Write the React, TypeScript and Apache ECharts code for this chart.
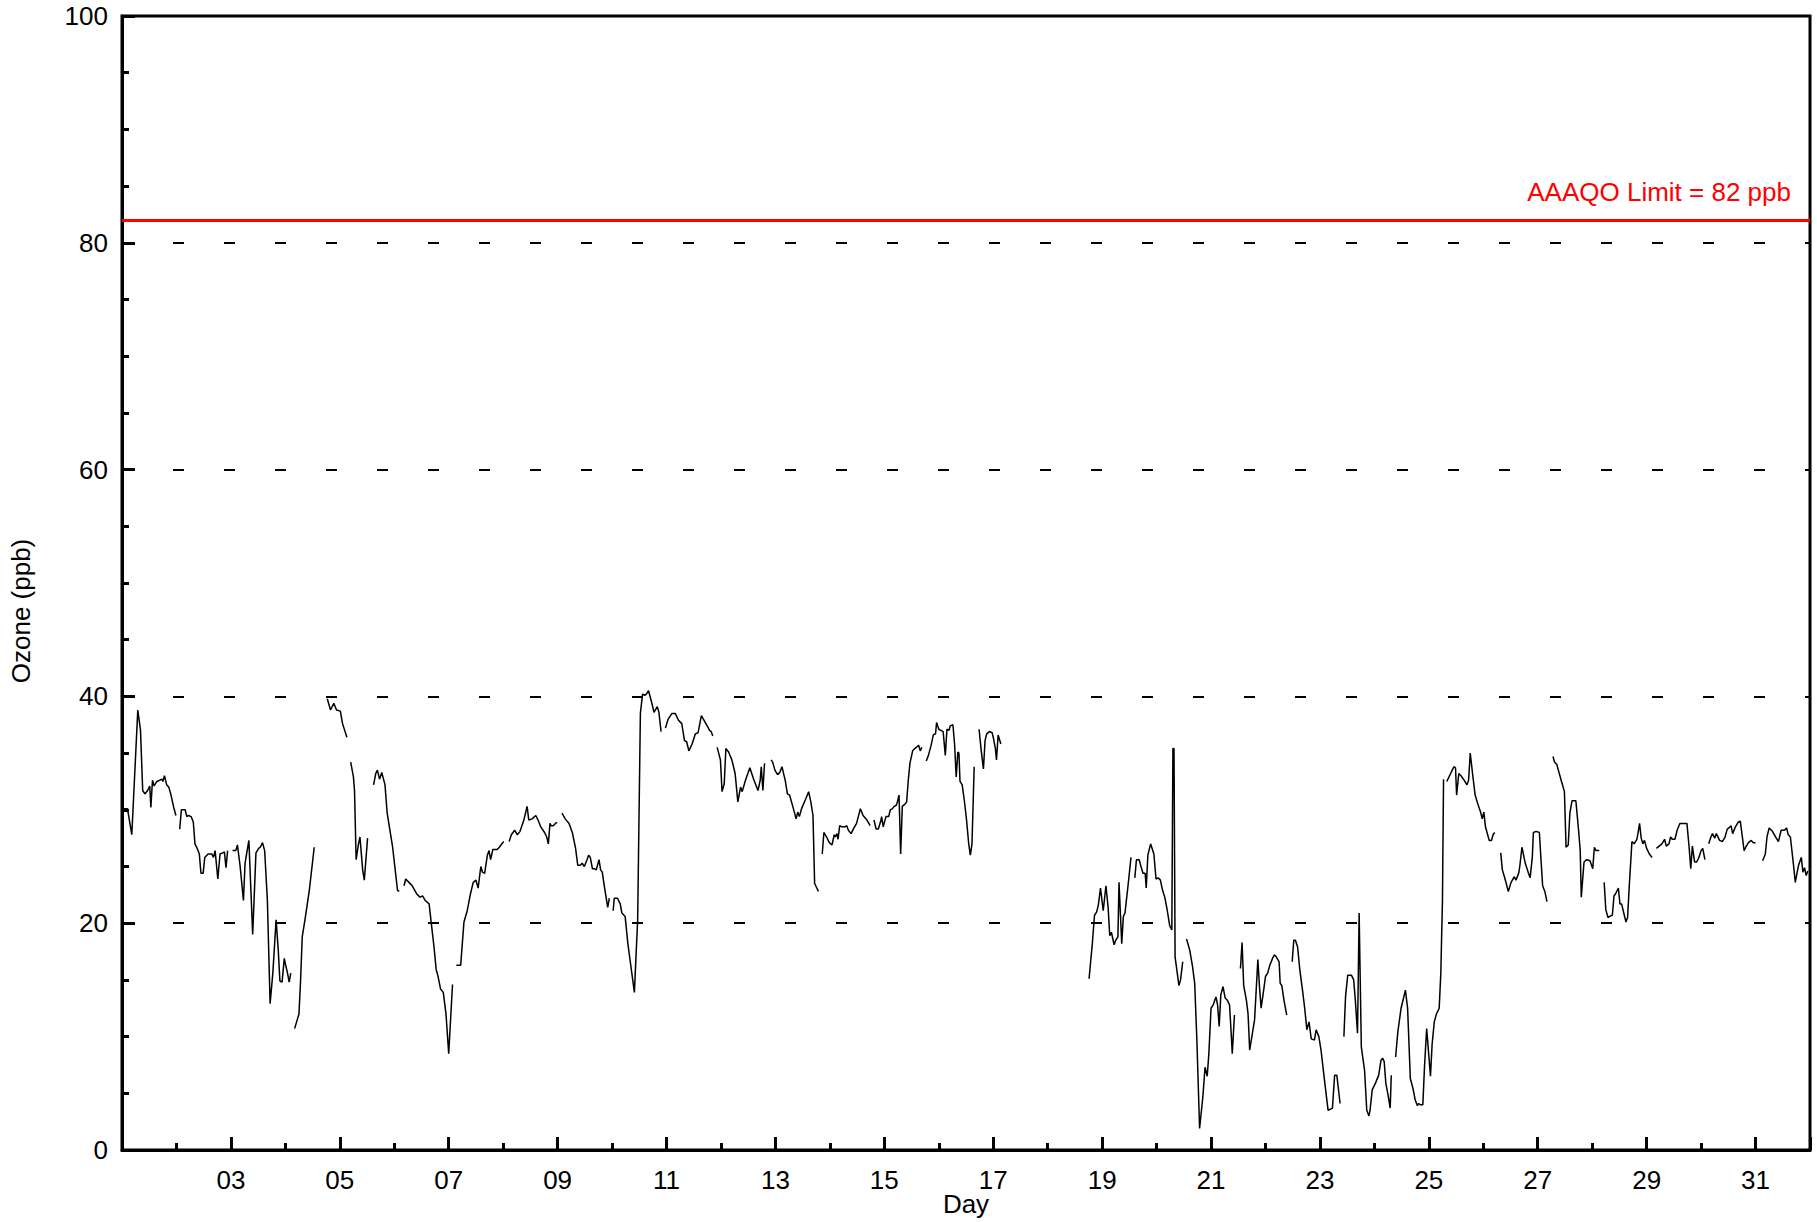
import React, { useEffect, useRef } from "react";
import * as echarts from "echarts";

const ozoneSegments: [number, number][][] = [
  [[1.03,30.1],[1.10,30.1],[1.18,27.8],[1.29,38.8],[1.34,37.0],[1.38,31.7],[1.42,31.4],[1.47,31.7],[1.51,32.1],[1.53,30.2],[1.56,32.6],[1.59,32.1],[1.64,32.5],[1.69,32.6],[1.73,32.7],[1.75,32.5],[1.78,33.0],[1.82,32.2],[1.86,32.0],[1.90,31.3],[1.95,30.2],[1.99,29.5]],
  [[2.06,28.3],[2.09,30.0],[2.16,30.0],[2.19,29.4],[2.22,29.5],[2.27,29.4],[2.31,28.9],[2.34,27.0],[2.38,26.6],[2.42,26.1],[2.45,24.4],[2.49,24.4],[2.52,25.8],[2.58,26.1],[2.65,26.1],[2.68,25.8],[2.71,26.4],[2.76,23.9],[2.80,26.1],[2.85,26.2],[2.88,26.3],[2.91,24.9],[2.94,26.4]],
  [[3.03,26.4],[3.09,26.4],[3.12,26.9],[3.17,25.0],[3.23,22.0],[3.26,25.3],[3.33,27.3],[3.40,19.0],[3.46,26.2],[3.51,26.6],[3.54,26.7],[3.58,27.1],[3.62,26.4],[3.67,22.0],[3.72,12.9],[3.77,15.6],[3.83,20.3],[3.87,17.6],[3.90,14.9],[3.94,14.8],[3.98,16.9],[4.01,16.2],[4.04,15.6],[4.07,14.8],[4.10,15.6]],
  [[4.17,10.7],[4.25,12.0],[4.28,15.0],[4.31,18.8],[4.36,20.3],[4.44,22.9],[4.53,26.7]],
  [[4.77,39.8],[4.83,38.8],[4.89,39.4],[4.94,38.8],[5.01,38.7],[5.05,37.6],[5.13,36.4]],
  [[5.20,34.2],[5.25,32.9],[5.27,31.7],[5.30,25.6],[5.34,26.9],[5.37,27.6],[5.42,24.7],[5.45,23.8],[5.51,27.5]],
  [[5.62,32.2],[5.66,33.2],[5.69,33.5],[5.73,32.7],[5.77,33.3],[5.83,32.2],[5.87,29.7],[5.97,26.7],[6.06,22.9],[6.09,22.8]],
  [[6.18,23.3],[6.21,23.9],[6.27,23.6],[6.33,23.3],[6.41,22.6],[6.47,22.3],[6.52,22.4],[6.57,22.0],[6.64,21.7],[6.68,20.0],[6.73,17.9],[6.77,15.9],[6.80,15.4],[6.85,14.2],[6.90,13.9],[6.95,12.0],[7.00,8.5],[7.07,14.6]],
  [[7.14,16.3],[7.22,16.3],[7.28,20.1],[7.34,21.1],[7.40,22.6],[7.45,23.6],[7.50,23.8],[7.54,23.1],[7.59,25.0],[7.62,24.5],[7.66,24.4],[7.71,26.0],[7.74,26.4],[7.77,25.6],[7.81,26.5],[7.89,26.5],[7.93,26.7],[7.96,26.9],[8.01,27.2]],
  [[8.11,27.2],[8.15,27.8],[8.21,28.2],[8.26,27.8],[8.31,28.1],[8.38,29.1],[8.44,30.3],[8.47,29.1],[8.53,29.2],[8.60,29.5],[8.64,29.1],[8.69,28.5],[8.76,28.0],[8.80,27.6],[8.83,27.0],[8.86,28.8],[8.88,28.6],[8.92,28.6],[8.96,28.8],[8.99,28.9]],
  [[9.08,29.7],[9.14,29.2],[9.21,28.8],[9.27,28.0],[9.33,26.6],[9.37,25.1],[9.42,25.1],[9.45,25.3],[9.49,25.0],[9.54,25.6],[9.57,26.0],[9.60,25.8],[9.64,24.8],[9.68,24.8],[9.71,24.7],[9.76,25.6],[9.79,24.7],[9.82,24.5],[9.86,23.2],[9.90,22.0],[9.92,21.4],[9.95,22.2]],
  [[10.02,21.1],[10.04,22.2],[10.10,22.2],[10.15,21.7],[10.18,20.9],[10.24,20.6],[10.29,18.2],[10.34,16.4],[10.41,13.9],[10.47,20.3],[10.52,38.5],[10.56,40.2],[10.60,40.1],[10.63,40.2],[10.67,40.5],[10.72,39.6],[10.77,38.6],[10.83,39.1],[10.86,38.6],[10.90,36.9]],
  [[10.98,37.2],[11.03,38.0],[11.10,38.5],[11.16,38.5],[11.22,37.9],[11.28,37.6],[11.33,36.1],[11.37,36.0],[11.41,35.2],[11.47,35.8],[11.53,36.7],[11.58,36.8],[11.64,38.3],[11.70,37.8],[11.76,37.3],[11.79,37.0],[11.82,36.9],[11.85,36.5]],
  [[11.93,35.5],[11.99,34.4],[12.02,31.6],[12.06,32.3],[12.09,35.4],[12.14,35.1],[12.20,34.4],[12.26,33.2],[12.31,30.7],[12.36,32.0],[12.39,31.6],[12.45,32.6],[12.53,33.7],[12.60,32.7],[12.68,31.7],[12.72,32.6],[12.74,33.8],[12.77,31.7],[12.80,34.1]],
  [[12.92,34.4],[12.95,34.2],[12.99,33.5],[13.04,33.1],[13.08,33.3],[13.12,33.8],[13.18,32.6],[13.22,31.4],[13.26,31.3],[13.33,30.1],[13.38,29.2],[13.41,29.8],[13.44,29.4],[13.48,30.1],[13.56,31.0],[13.61,31.6],[13.65,30.7],[13.69,29.5],[13.72,23.5],[13.76,23.1],[13.79,22.8]],
  [[13.86,26.1],[13.89,28.0],[13.94,27.6],[13.99,27.1],[14.04,26.9],[14.08,27.8],[14.10,27.6],[14.13,27.9],[14.15,27.4],[14.18,28.6],[14.22,28.5],[14.28,28.5],[14.31,28.6],[14.34,28.2],[14.39,27.9],[14.43,28.3],[14.49,28.8],[14.56,30.1],[14.61,29.5],[14.68,29.1],[14.74,28.6]],
  [[14.81,29.1],[14.85,28.3],[14.89,28.3],[14.94,29.1],[14.95,29.4],[14.98,28.5],[15.03,29.4],[15.08,29.4],[15.11,30.0],[15.15,30.1],[15.18,30.3],[15.22,30.4],[15.24,30.7],[15.27,31.3],[15.30,26.1],[15.33,30.3],[15.38,30.5],[15.41,30.7],[15.44,32.6],[15.47,34.1],[15.52,35.2],[15.56,35.4],[15.61,35.6],[15.63,35.7],[15.66,35.2],[15.69,35.5]],
  [[15.77,34.3],[15.81,34.8],[15.86,35.7],[15.90,36.6],[15.94,36.7],[15.96,37.7],[16.00,37.1],[16.04,37.0],[16.08,36.9],[16.12,34.8],[16.15,37.1],[16.19,37.0],[16.21,37.4],[16.26,37.5],[16.29,35.8],[16.32,32.9],[16.35,35.1],[16.37,35.0],[16.39,32.5],[16.43,32.2],[16.47,30.8],[16.51,29.1],[16.55,27.0],[16.58,26.0],[16.61,27.0],[16.65,33.8]],
  [[16.74,37.1],[16.78,35.2],[16.82,33.6],[16.85,36.1],[16.88,36.7],[16.93,36.9],[16.98,36.8],[17.00,36.4],[17.04,35.4],[17.06,34.4],[17.09,36.6],[17.14,35.8]],
  [[18.76,15.1],[18.82,18.2],[18.86,20.7],[18.90,21.0],[18.93,21.6],[18.97,23.1],[19.02,21.1],[19.07,23.3],[19.11,21.4],[19.14,18.9],[19.17,19.2],[19.22,18.1],[19.25,18.5],[19.29,18.8],[19.31,23.6],[19.36,18.2],[19.39,20.6],[19.42,20.9],[19.48,23.5],[19.53,25.8]],
  [[19.60,24.0],[19.63,25.6],[19.68,25.6],[19.72,24.9],[19.75,24.4],[19.79,24.4],[19.81,23.1],[19.84,26.0],[19.89,27.0],[19.95,26.1],[19.99,23.9],[20.03,24.0],[20.07,23.8],[20.11,22.9],[20.15,22.3],[20.19,21.3],[20.24,19.8],[20.28,19.4],[20.30,35.4],[20.32,35.4],[20.34,17.0],[20.38,15.6],[20.41,14.5],[20.44,15.0],[20.48,16.6]],
  [[20.55,18.6],[20.61,17.6],[20.66,16.2],[20.70,14.7],[20.74,9.7],[20.79,1.9],[20.85,4.7],[20.89,7.3],[20.93,6.5],[20.96,8.5],[21.00,12.5],[21.04,12.8],[21.09,13.5],[21.12,12.8],[21.15,10.9],[21.18,13.7],[21.22,14.4],[21.26,13.4],[21.30,13.2],[21.34,12.8],[21.37,10.3],[21.39,8.5],[21.43,11.9]],
  [[21.54,16.0],[21.57,18.3],[21.60,14.5],[21.65,13.2],[21.68,12.0],[21.71,8.8],[21.76,10.3],[21.80,11.5],[21.86,16.8],[21.89,14.4],[21.92,12.5],[21.97,14.2],[22.00,15.3],[22.04,15.6],[22.08,16.3],[22.13,16.9],[22.16,17.2],[22.19,17.1],[22.25,16.6],[22.27,14.7],[22.30,14.5],[22.34,13.2],[22.39,11.9]],
  [[22.49,16.6],[22.52,18.5],[22.55,18.5],[22.59,17.9],[22.63,15.9],[22.68,14.1],[22.72,12.5],[22.76,10.6],[22.80,11.3],[22.84,9.8],[22.90,9.7],[22.93,10.6],[22.98,10.0],[23.02,8.8],[23.08,6.3],[23.15,3.5],[23.23,3.7],[23.27,6.6],[23.31,6.6],[23.37,4.1]],
  [[23.44,10.0],[23.47,13.5],[23.51,15.4],[23.58,15.4],[23.62,15.0],[23.65,13.2],[23.69,10.3],[23.72,20.9],[23.76,9.1],[23.82,7.0],[23.86,3.5],[23.90,3.0],[23.92,3.5],[23.96,5.3],[24.02,5.9],[24.08,6.6],[24.12,7.9],[24.15,8.1],[24.18,7.8],[24.21,5.9],[24.26,4.6],[24.29,3.7],[24.31,6.6]],
  [[24.39,8.2],[24.43,10.4],[24.49,12.5],[24.57,14.1],[24.61,12.5],[24.66,6.3],[24.71,5.4],[24.75,4.4],[24.79,3.9],[24.81,4.1],[24.84,4.0],[24.89,4.0],[24.92,7.3],[24.96,10.7],[25.03,6.5],[25.06,9.3],[25.10,11.3],[25.14,12.0],[25.19,12.5],[25.22,15.6],[25.25,22.0],[25.27,32.7]],
  [[25.33,32.5],[25.38,33.0],[25.43,33.5],[25.46,33.8],[25.49,33.7],[25.51,31.3],[25.55,33.2],[25.59,33.0],[25.65,32.6],[25.70,32.2],[25.73,32.6],[25.76,35.0],[25.81,32.9],[25.85,31.3],[25.90,30.5],[25.95,29.8],[25.98,29.2],[26.01,29.8],[26.04,28.5],[26.08,27.8],[26.11,27.3],[26.15,27.3],[26.18,27.8],[26.21,28.0]],
  [[26.32,26.2],[26.35,24.7],[26.40,23.9],[26.46,22.8],[26.51,23.6],[26.57,24.1],[26.60,23.8],[26.65,24.4],[26.67,25.0],[26.71,26.7],[26.77,25.3],[26.83,24.4],[26.86,24.0],[26.90,25.8],[26.92,28.0],[26.97,28.1],[27.03,28.0],[27.06,25.6],[27.09,23.3],[27.13,22.8],[27.17,21.9]],
  [[27.28,34.7],[27.31,34.2],[27.35,34.0],[27.39,33.3],[27.43,32.6],[27.49,31.6],[27.52,26.7],[27.56,26.9],[27.59,29.7],[27.63,30.8],[27.70,30.8],[27.75,28.2],[27.78,26.4],[27.80,22.3],[27.85,25.4],[27.90,25.6],[27.96,25.5],[28.01,24.8],[28.04,26.7],[28.07,26.4],[28.13,26.4]],
  [[28.22,23.6],[28.25,21.2],[28.29,20.5],[28.32,20.6],[28.37,20.7],[28.40,22.4],[28.43,22.6],[28.48,23.1],[28.51,21.7],[28.54,21.7],[28.59,20.7],[28.62,20.1],[28.65,20.5],[28.68,23.2],[28.73,27.2],[28.77,27.0],[28.82,27.4],[28.84,27.9],[28.87,28.8],[28.90,27.5],[28.93,27.0],[28.96,27.3],[29.00,26.6],[29.05,26.1],[29.10,25.8]],
  [[29.18,26.6],[29.23,26.8],[29.28,27.0],[29.33,27.4],[29.36,26.8],[29.41,27.0],[29.44,27.6],[29.47,27.4],[29.52,27.4],[29.56,28.2],[29.61,28.8],[29.66,28.8],[29.74,28.8],[29.78,26.7],[29.81,24.8],[29.84,26.8],[29.88,25.4],[29.92,25.4],[29.96,25.8],[30.00,26.4],[30.03,26.6],[30.07,25.6]],
  [[30.14,27.0],[30.18,27.6],[30.21,27.9],[30.25,27.5],[30.28,27.9],[30.34,27.3],[30.39,27.2],[30.44,27.6],[30.48,28.3],[30.51,28.4],[30.55,28.6],[30.58,27.9],[30.63,28.5],[30.68,28.9],[30.72,29.0],[30.75,27.9],[30.79,26.4],[30.82,26.7],[30.87,27.1],[30.92,27.3],[30.96,27.1],[31.00,27.1]],
  [[31.13,25.5],[31.18,26.1],[31.21,27.6],[31.25,28.4],[31.31,28.1],[31.37,27.6],[31.42,27.2],[31.47,28.2],[31.53,28.2],[31.57,28.4],[31.60,27.8],[31.64,27.6],[31.70,25.0],[31.73,23.6],[31.76,24.4],[31.79,25.1],[31.84,25.8],[31.87,24.5],[31.90,24.9],[31.93,24.2],[31.96,24.6]],
];

const dayRange = [1, 32];
const labelledDays = [3, 5, 7, 9, 11, 13, 15, 17, 19, 21, 23, 25, 27, 29, 31];
const ozoneRange = [0, 100];
const limitValue = 82;
const limitLabel = "AAAQO Limit = 82 ppb";
const xTitle = "Day";
const yTitle = "Ozone (ppb)";

const FONT = "Liberation Sans, Arial, Helvetica, sans-serif";
const FS = 26;

export default function App() {
  const ref = useRef<HTMLDivElement>(null);
  useEffect(() => {
    if (!ref.current) return;
    const chart = echarts.init(ref.current, undefined, { renderer: "svg" });
    const data: any[] = [];
    ozoneSegments.forEach((seg, i) => {
      if (i > 0) data.push([seg[0][0], "-"]);
      seg.forEach((p) => data.push([p[0], p[1]]));
    });
    const tickLine = { color: "#000", width: 3 };
    chart.setOption({
      animation: false,
      backgroundColor: "#fff",
      textStyle: { fontFamily: FONT },
      grid: {
        left: 122, top: 16, width: 1688, height: 1134,
        outerBoundsMode: "none", containLabel: false,
        show: true, borderColor: "#000", borderWidth: 3, backgroundColor: "transparent",
      },
      xAxis: [
        {
          type: "value", min: dayRange[0], max: dayRange[1], interval: 2, position: "bottom",
          axisLine: { show: true, onZero: false, lineStyle: { color: "#000", width: 3 } },
          axisTick: { show: true, inside: true, length: 13, lineStyle: tickLine },
          axisLabel: {
            fontSize: FS, color: "#000", margin: 17, fontFamily: FONT,
            formatter: (v: number) => (labelledDays.includes(v) ? String(v).padStart(2, "0") : ""),
          },
          splitLine: { show: false },
        },
        {
          type: "value", min: dayRange[0], max: dayRange[1], interval: 1, position: "bottom",
          axisLine: { show: false },
          axisTick: { show: true, inside: true, length: 7, lineStyle: tickLine },
          axisLabel: { show: false },
          splitLine: { show: false },
        },
      ],
      yAxis: {
        type: "value", min: ozoneRange[0], max: ozoneRange[1], interval: 20,
        axisLine: { show: true, onZero: false, lineStyle: { color: "#000", width: 3 } },
        axisTick: { show: true, inside: true, length: 13, lineStyle: tickLine },
        minorTick: { show: true, splitNumber: 4, length: 7, lineStyle: tickLine },
        axisLabel: { fontSize: FS, color: "#000", margin: 14, fontFamily: FONT },
        splitLine: { show: true, lineStyle: { color: "#000", width: 2, type: [11, 40] } },
      },
      graphic: [
        {
          type: "text", left: 8, top: "middle", rotation: Math.PI / 2,
          style: { text: yTitle, fontSize: FS, fill: "#000", fontFamily: FONT },
        },
        {
          type: "text", x: 966, y: 1204,
          style: {
            text: xTitle, fontSize: FS, fill: "#000", fontFamily: FONT,
            align: "center", verticalAlign: "middle",
          },
        },
      ],
      series: [
        {
          type: "line", xAxisIndex: 0, data, showSymbol: false, symbol: "none",
          connectNulls: false,
          lineStyle: { color: "#000", width: 1.5 },
          markLine: {
            silent: true, symbol: ["none", "none"],
            lineStyle: { color: "#ff0000", width: 3, type: "solid" },
            label: {
              show: true, position: "insideEndTop", formatter: limitLabel,
              color: "#ff0000", fontSize: FS, fontFamily: FONT, distance: [19, 15],
            },
            data: [{ yAxis: limitValue }],
          },
        },
      ],
    });
    return () => chart.dispose();
  }, []);
  return (
    <div
      ref={ref}
      style={{ position: "absolute", left: 0, top: 0, width: 1817, height: 1222, background: "#fff" }}
    />
  );
}
